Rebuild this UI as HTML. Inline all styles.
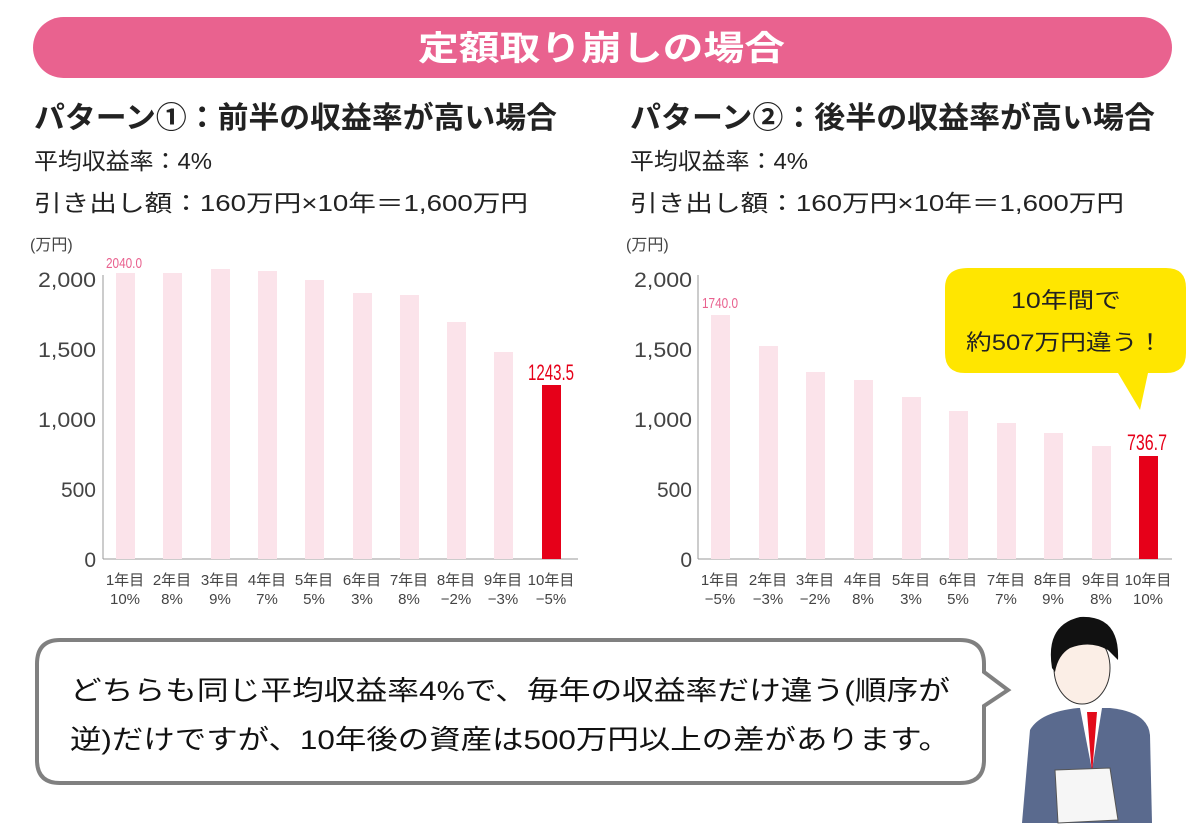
<!DOCTYPE html>
<html><head><meta charset="utf-8"><style>
body{margin:0;width:1200px;height:827px;background:#fff;font-family:"Liberation Sans","Noto Sans CJK JP",sans-serif;overflow:hidden;position:relative;color:#222}
.a{position:absolute;white-space:nowrap}
</style></head><body>
<div class="a" style="left:33px;top:17px;width:1139px;height:61px;background:#e9628f;border-radius:31px"></div>
<svg class="a" style="left:0;top:0" width="1200" height="827" font-family="Liberation Sans, Noto Sans CJK JP, sans-serif">
<text x="418" y="60" font-size="34" font-weight="bold" fill="#fff" textLength="367" lengthAdjust="spacingAndGlyphs">定額取り崩しの場合</text>
<text x="34" y="128" font-size="30" font-weight="bold" fill="#222" textLength="523" lengthAdjust="spacingAndGlyphs">パターン①：前半の収益率が高い場合</text>
<text x="34" y="169" font-size="23" fill="#222" textLength="178" lengthAdjust="spacingAndGlyphs">平均収益率：4%</text>
<text x="34" y="211" font-size="23" fill="#222" textLength="494" lengthAdjust="spacingAndGlyphs">引き出し額：160万円×10年＝1,600万円</text>
<text x="630" y="128" font-size="30" font-weight="bold" fill="#222" textLength="525" lengthAdjust="spacingAndGlyphs">パターン②：後半の収益率が高い場合</text>
<text x="630" y="169" font-size="23" fill="#222" textLength="178" lengthAdjust="spacingAndGlyphs">平均収益率：4%</text>
<text x="630" y="211" font-size="23" fill="#222" textLength="494" lengthAdjust="spacingAndGlyphs">引き出し額：160万円×10年＝1,600万円</text>
<g fill="#444" font-size="21">
<text x="30" y="250" font-size="16">(万円)</text>
<text x="38" y="287" textLength="58" lengthAdjust="spacingAndGlyphs">2,000</text><text x="38" y="357" textLength="58" lengthAdjust="spacingAndGlyphs">1,500</text><text x="38" y="427" textLength="58" lengthAdjust="spacingAndGlyphs">1,000</text><text x="96" y="497" text-anchor="end">500</text><text x="96" y="567" text-anchor="end">0</text>
<line x1="103" y1="275" x2="103" y2="559" stroke="#999"/><line x1="103" y1="559" x2="578" y2="559" stroke="#999"/>
<g fill="#fbe3ea">
<rect x="116" y="273" width="19" height="286"/><rect x="163" y="273" width="19" height="286"/><rect x="211" y="269" width="19" height="290"/><rect x="258" y="271" width="19" height="288"/><rect x="305" y="280" width="19" height="279"/><rect x="353" y="293" width="19" height="266"/><rect x="400" y="295" width="19" height="264"/><rect x="447" y="322" width="19" height="237"/><rect x="494" y="352" width="19" height="207"/></g>
<rect x="542" y="385" width="19" height="174" fill="#e60019"/>
<text x="106" y="268" font-size="15" fill="#e9628f" textLength="36" lengthAdjust="spacingAndGlyphs">2040.0</text>
<text x="528" y="380" font-size="22" fill="#e60019" textLength="46" lengthAdjust="spacingAndGlyphs">1243.5</text>
</g>
<g fill="#444" font-size="21">
<text x="626" y="250" font-size="16">(万円)</text>
<text x="634" y="287" textLength="58" lengthAdjust="spacingAndGlyphs">2,000</text><text x="634" y="357" textLength="58" lengthAdjust="spacingAndGlyphs">1,500</text><text x="634" y="427" textLength="58" lengthAdjust="spacingAndGlyphs">1,000</text><text x="692" y="497" text-anchor="end">500</text><text x="692" y="567" text-anchor="end">0</text>
<line x1="698" y1="275" x2="698" y2="559" stroke="#999"/><line x1="698" y1="559" x2="1172" y2="559" stroke="#999"/>
<g fill="#fbe3ea">
<rect x="711" y="315" width="19" height="244"/><rect x="759" y="346" width="19" height="213"/><rect x="806" y="372" width="19" height="187"/><rect x="854" y="380" width="19" height="179"/><rect x="902" y="397" width="19" height="162"/><rect x="949" y="411" width="19" height="148"/><rect x="997" y="423" width="19" height="136"/><rect x="1044" y="433" width="19" height="126"/><rect x="1092" y="446" width="19" height="113"/></g>
<rect x="1139" y="456" width="19" height="103" fill="#e60019"/>
<text x="702" y="308" font-size="15" fill="#e9628f" textLength="36" lengthAdjust="spacingAndGlyphs">1740.0</text>
<text x="1127" y="450" font-size="22" fill="#e60019" textLength="40" lengthAdjust="spacingAndGlyphs">736.7</text>
</g>
<g font-size="15" fill="#444" text-anchor="middle">
<text x="125" y="585">1年目</text><text x="125" y="604">10%</text>
<text x="172" y="585">2年目</text><text x="172" y="604">8%</text>
<text x="220" y="585">3年目</text><text x="220" y="604">9%</text>
<text x="267" y="585">4年目</text><text x="267" y="604">7%</text>
<text x="314" y="585">5年目</text><text x="314" y="604">5%</text>
<text x="362" y="585">6年目</text><text x="362" y="604">3%</text>
<text x="409" y="585">7年目</text><text x="409" y="604">8%</text>
<text x="456" y="585">8年目</text><text x="456" y="604">−2%</text>
<text x="503" y="585">9年目</text><text x="503" y="604">−3%</text>
<text x="551" y="585">10年目</text><text x="551" y="604">−5%</text>
<text x="720" y="585">1年目</text><text x="720" y="604">−5%</text>
<text x="768" y="585">2年目</text><text x="768" y="604">−3%</text>
<text x="815" y="585">3年目</text><text x="815" y="604">−2%</text>
<text x="863" y="585">4年目</text><text x="863" y="604">8%</text>
<text x="911" y="585">5年目</text><text x="911" y="604">3%</text>
<text x="958" y="585">6年目</text><text x="958" y="604">5%</text>
<text x="1006" y="585">7年目</text><text x="1006" y="604">7%</text>
<text x="1053" y="585">8年目</text><text x="1053" y="604">9%</text>
<text x="1101" y="585">9年目</text><text x="1101" y="604">8%</text>
<text x="1148" y="585">10年目</text><text x="1148" y="604">10%</text>
</g>
<path d="M968 268 H1166 Q1186 268 1186 288 V353 Q1186 373 1166 373 H1148 L1140 410 L1118 373 H965 Q945 373 945 353 V288 Q945 268 968 268Z" fill="#ffe600"/>
<text x="1011" y="308" font-size="22" fill="#222" textLength="110" lengthAdjust="spacingAndGlyphs">10年間で</text>
<text x="966" y="350" font-size="22" fill="#222" textLength="197" lengthAdjust="spacingAndGlyphs">約507万円違う！</text>
<path d="M60 640 H960 Q984 640 984 664 V672 L1008 690 L984 706 V760 Q984 783 960 783 H60 Q37 783 37 760 V664 Q37 640 60 640Z" fill="#fff" stroke="#808080" stroke-width="4"/>
<text x="70" y="700" font-size="27" fill="#111" textLength="880" lengthAdjust="spacingAndGlyphs">どちらも同じ平均収益率4%で、毎年の収益率だけ違う(順序が</text>
<text x="70" y="749" font-size="27" fill="#111" textLength="880" lengthAdjust="spacingAndGlyphs">逆)だけですが、10年後の資産は500万円以上の差があります。</text>
<path d="M1022 823 L1030 730 Q1040 712 1078 708 L1110 708 Q1148 712 1150 735 L1152 823Z" fill="#5a6a8e"/>
<path d="M1080 708 L1092 770 L1102 708Z" fill="#fff"/><path d="M1087 712 L1092 775 L1097 712Z" fill="#e20a1a"/>
<ellipse cx="1082" cy="668" rx="28" ry="36" fill="#fbeee6" stroke="#333"/>
<path d="M1052 668 Q1045 625 1080 617 Q1120 615 1118 660 L1108 650 Q1090 640 1070 648 Q1058 655 1055 672Z" fill="#111"/>
<path d="M1055 770 L1110 768 L1118 820 L1058 823Z" fill="#f6f6f6" stroke="#555"/>
</svg>
</body></html>
